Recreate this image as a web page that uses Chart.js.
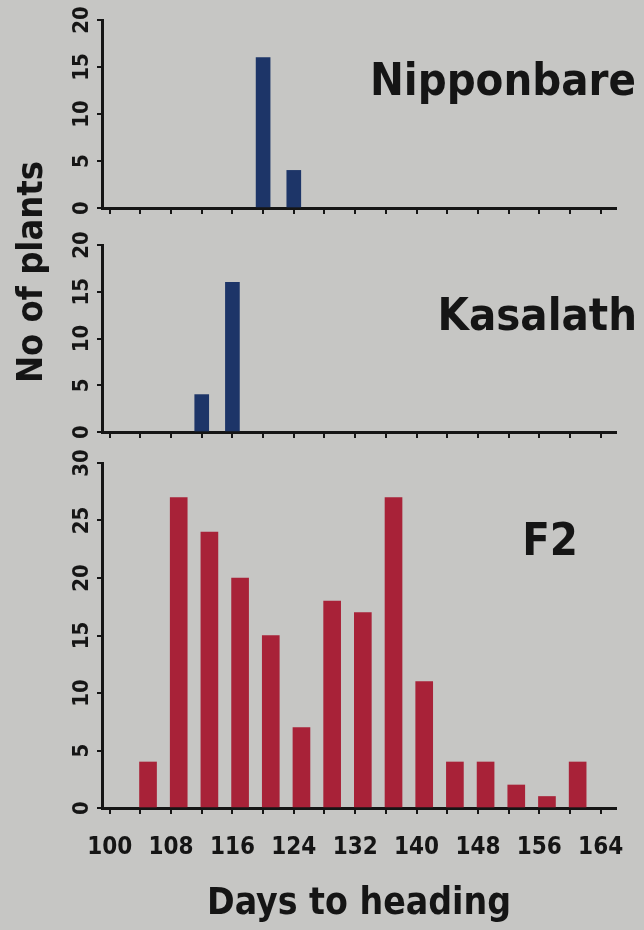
<!DOCTYPE html>
<html lang="en">
<head>
<meta charset="UTF-8">
<title>Days to heading</title>
<script src="https://cdn.jsdelivr.net/npm/chart.js"></script>
<style>
    body {
        margin: 0;
        background-color: #c6c6c4;
        width: 644px;
        height: 930px;
        position: relative;
        overflow: hidden;
    }
    canvas { position: absolute; left: 0; }
    #nipponChart { top: 0; }
    #kasalathChart { top: 120px; }
    #f2Chart { top: 440px; }
</style>
</head>
<body>
<canvas id="nipponChart" width="644" height="222"></canvas>
<canvas id="kasalathChart" width="644" height="332"></canvas>
<canvas id="f2Chart" width="644" height="490"></canvas>

<script>
// data
const nipponDays = [120, 124];
const nipponPlants = [16, 4];
const kasalathDays = [112, 116];
const kasalathPlants = [4, 16];
const f2Days = [105, 109, 113, 117, 121, 125, 129, 133, 137, 141, 145, 149, 153, 157, 161];
const f2Plants = [4, 27, 24, 20, 15, 7, 18, 17, 27, 11, 4, 4, 2, 1, 4];

const dayTicks = [100, 104, 108, 112, 116, 120, 124, 128, 132, 136, 140, 144, 148, 152, 156, 160, 164];
const dayLabels = [100, 108, 116, 124, 132, 140, 148, 156, 164];
const parentTicks = [0, 5, 10, 15, 20];
const f2Ticks = [0, 5, 10, 15, 20, 25, 30];

const FONT = 'DejaVu Sans Condensed';
const INK = '#151515';

// draws the panel names and the shared y title
const panelText = {
    id: 'panelText',
    afterDraw(chart, args, opts) {
        const ctx = chart.ctx;
        (opts.items || []).forEach(t => {
            ctx.save();
            ctx.font = 'bold ' + t.size + 'px "' + FONT + '"';
            ctx.fillStyle = INK;
            ctx.textAlign = t.align || 'right';
            ctx.textBaseline = t.baseline || 'alphabetic';
            ctx.translate(t.x, t.y);
            if (t.rotate) ctx.rotate(t.rotate);
            ctx.fillText(t.text, 0, 0);
            ctx.restore();
        });
    }
};

function makeChart(id, days, plants, yTicks, color, cfg) {
    const ctx = document.getElementById(id).getContext('2d');
    return new Chart(ctx, {
        type: 'bar',
        data: {
            datasets: [{
                data: days.map((d, i) => ({ x: d, y: plants[i] })),
                backgroundColor: color,
                borderWidth: 0,
                barThickness: cfg.barWidth
            }]
        },
        plugins: [panelText],
        options: {
            responsive: false,
            animation: false,
            devicePixelRatio: 1,
            layout: { padding: { top: cfg.padTop, right: 28, left: 0, bottom: 0 } },
            plugins: {
                legend: { display: false },
                tooltip: { enabled: false },
                panelText: { items: cfg.texts }
            },
            scales: {
                x: {
                    type: 'linear',
                    min: 99,
                    max: 166,
                    offset: false,
                    afterBuildTicks: s => { s.ticks = dayTicks.map(v => ({ value: v })); },
                    afterFit: s => { s.height = cfg.xHeight; s.paddingLeft = 0; s.paddingRight = 0; },
                    border: { display: true, color: INK, width: 3 },
                    grid: { offset: false, drawOnChartArea: false, drawTicks: true, tickLength: 6, color: INK, lineWidth: 2 },
                    ticks: {
                        display: cfg.xLabels,
                        autoSkip: false,
                        maxRotation: 0,
                        padding: 19,
                        color: INK,
                        font: { family: FONT, size: 24, weight: 'bold' },
                        callback: v => dayLabels.includes(v) ? String(v) : ''
                    },
                    title: {
                        display: !!cfg.xTitle,
                        text: cfg.xTitle || '',
                        color: INK,
                        padding: { top: 0, bottom: 3 },
                        font: { family: FONT, size: 37, weight: 'bold' }
                    }
                },
                y: {
                    min: 0,
                    max: yTicks[yTicks.length - 1],
                    afterBuildTicks: s => { s.ticks = yTicks.map(v => ({ value: v })); },
                    afterFit: s => { s.width = 102; s.paddingTop = 0; s.paddingBottom = 0; },
                    border: { display: true, color: INK, width: 3 },
                    grid: { drawOnChartArea: false, drawTicks: true, tickLength: 5, color: INK, lineWidth: 2 },
                    ticks: {
                        minRotation: 90,
                        maxRotation: 90,
                        crossAlign: 'center',
                        padding: 1,
                        color: INK,
                        font: { family: FONT, size: 22, weight: 'bold' }
                    }
                }
            }
        }
    });
}

makeChart('nipponChart', nipponDays, nipponPlants, parentTicks, '#1d3568', {
    padTop: 20, xHeight: 14, barWidth: 14, xLabels: false,
    texts: [{ text: 'Nipponbare', size: 45, x: 636, y: 95 }]
});

makeChart('kasalathChart', kasalathDays, kasalathPlants, parentTicks, '#1d3568', {
    padTop: 125, xHeight: 20, barWidth: 14, xLabels: false,
    texts: [
        { text: 'Kasalath', size: 45, x: 637, y: 210 },
        { text: 'No of plants', size: 36, x: 33, y: 152, align: 'center', baseline: 'middle', rotate: -Math.PI / 2 }
    ]
});

makeChart('f2Chart', f2Days, f2Plants, f2Ticks, '#a82238', {
    padTop: 23, xHeight: 122, barWidth: 17, xLabels: true, xTitle: 'Days to heading',
    texts: [{ text: 'F2', size: 45, x: 578, y: 115 }]
});
</script>
</body>
</html>
